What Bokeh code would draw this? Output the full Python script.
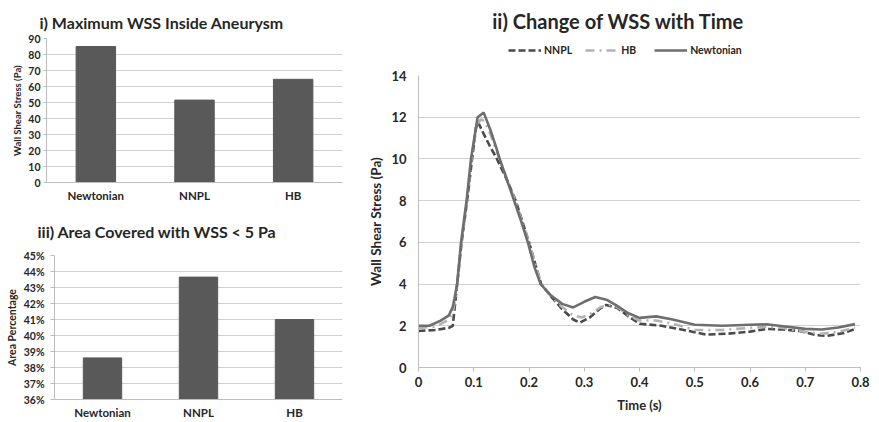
from bokeh.plotting import figure
from bokeh.layouts import row, column
from bokeh.models import Legend, LegendItem, PrintfTickFormatter, FixedTicker, Range1d, Label
from bokeh.embed import file_html
from bokeh.resources import INLINE

FONT = "Lato"

# ---------------- data ----------------
models = ["Newtonian", "NNPL", "HB"]
max_wss = [85, 51.5, 64.5]
area_pct = [38.6, 43.65, 41.0]

t_newt = [0, 0.02, 0.04, 0.055, 0.062, 0.065, 0.07, 0.077, 0.087, 0.095, 0.107, 0.118,
          0.13, 0.14, 0.147, 0.16, 0.173, 0.186, 0.198, 0.21, 0.221, 0.24, 0.26, 0.28,
          0.30, 0.32, 0.34, 0.36, 0.38, 0.40, 0.43, 0.46, 0.50, 0.55, 0.60, 0.63, 0.66,
          0.70, 0.73, 0.76, 0.79]
wss_newt = [2.0, 2.0, 2.25, 2.5, 2.9, 3.3, 4.0, 6.0, 8.0, 10.0, 12.0, 12.22,
            11.4, 10.6, 10.0, 9.0, 8.0, 7.0, 6.0, 4.8, 4.0, 3.45, 3.05, 2.88,
            3.15, 3.38, 3.25, 2.95, 2.6, 2.38, 2.45, 2.3, 2.05, 2.0, 2.05, 2.07, 1.98,
            1.85, 1.82, 1.92, 2.08]

t_nnpl = [0, 0.03, 0.055, 0.062, 0.066, 0.07, 0.078, 0.088, 0.097, 0.104, 0.108,
          0.118, 0.13, 0.142, 0.16, 0.176, 0.2, 0.222, 0.24, 0.26, 0.28, 0.292, 0.31,
          0.33, 0.34, 0.36, 0.38, 0.40, 0.44, 0.48, 0.52, 0.56, 0.60, 0.63, 0.66, 0.69,
          0.72, 0.74, 0.77, 0.79]
wss_nnpl = [1.75, 1.8, 1.9, 2.0, 3.0, 4.0, 6.0, 8.0, 10.0, 11.5, 11.75,
            11.2, 10.57, 10.0, 9.0, 8.0, 6.0, 4.0, 3.4, 2.8, 2.3, 2.15, 2.4,
            2.85, 3.0, 2.85, 2.45, 2.1, 2.0, 1.8, 1.58, 1.62, 1.72, 1.85, 1.82, 1.75,
            1.55, 1.52, 1.65, 1.85]

t_hb = [0, 0.03, 0.055, 0.062, 0.066, 0.07, 0.078, 0.088, 0.096, 0.105, 0.113, 0.12,
        0.13, 0.145, 0.175, 0.2, 0.222, 0.24, 0.26, 0.28, 0.295, 0.31, 0.33, 0.345,
        0.36, 0.38, 0.40, 0.43, 0.46, 0.50, 0.55, 0.60, 0.63, 0.66, 0.70, 0.73, 0.76, 0.79]
wss_hb = [1.9, 1.95, 2.3, 2.6, 3.2, 4.0, 6.0, 8.0, 10.0, 11.6, 11.9, 11.8,
          11.2, 10.1, 8.0, 6.0, 4.0, 3.4, 2.9, 2.5, 2.4, 2.55, 2.9, 3.0,
          2.9, 2.5, 2.25, 2.25, 2.1, 1.8, 1.8, 1.9, 1.95, 1.9, 1.7, 1.62, 1.72, 1.9]

wss_ticks = list(range(0, 91, 10))
pct_ticks = list(range(36, 46))
time_ticks = [0, 0.1, 0.2, 0.3, 0.4, 0.5, 0.6, 0.7, 0.8]
ts_ticks = list(range(0, 15, 2))

BAR = "#595959"
GRID = "#d0d0d0"
AXIS = "#bdbdbd"
TXT = "#262626"
C_NEWT = "#6e6e6e"
C_NNPL = "#4a4a4a"
C_HB = "#b2b2b2"


def style(p, tick_px, cat=False):
    for ax in (p.xaxis[0], p.yaxis[0]):
        ax.axis_line_color = AXIS
        ax.major_tick_line_color = AXIS
        ax.minor_tick_line_color = None
        ax.major_tick_in = 0
        ax.major_tick_out = 4
        ax.major_label_text_font = FONT
        ax.major_label_text_font_style = "bold"
        ax.major_label_text_color = TXT
        ax.axis_label_text_font = FONT
        ax.axis_label_text_font_style = "bold"
        ax.axis_label_text_color = TXT
    p.yaxis.major_label_text_font_size = tick_px
    p.xgrid.grid_line_color = None
    p.ygrid.grid_line_color = GRID
    p.outline_line_color = None
    if cat:
        p.xaxis.major_tick_line_color = None
        p.xaxis.major_tick_out = 0


def header(width, height):
    h = figure(width=width, height=height, x_range=Range1d(0, 1), y_range=Range1d(0, 1),
               x_axis_location=None, y_axis_location=None, output_backend="svg",
               toolbar_location=None, min_border=0)
    h.grid.visible = False
    h.outline_line_color = None
    return h


def title_label(h, text, x, y, size, align="left"):
    h.add_layout(Label(x=x, y=y, x_units="screen", y_units="screen", text=text,
                       text_font=FONT, text_font_style="bold", text_font_size=size,
                       text_color=TXT, text_align=align, text_baseline="middle"))


# ---------------- chart i ----------------
h1 = header(350, 32)
title_label(h1, "i) Maximum WSS Inside Aneurysm", 39, 10, "16px")

p1 = figure(x_range=models, y_range=Range1d(0, 90), width=350, height=173,
            output_backend="svg", toolbar_location=None,
            min_border_left=46, min_border_right=8, min_border_top=6, min_border_bottom=23)
p1.vbar(x=models, top=max_wss, width=0.4, color=BAR)
style(p1, "10.5px", cat=True)
p1.yaxis.ticker = FixedTicker(ticks=wss_ticks)
p1.yaxis.axis_label = "Wall Shear Stress (Pa)"
p1.yaxis.axis_label_text_font_size = "9.5px"
p1.yaxis.axis_label_standoff = 2
p1.yaxis.major_label_standoff = 3
p1.yaxis.major_tick_out = 3
p1.xaxis.major_label_text_font_size = "11.5px"
p1.xaxis.major_label_standoff = 6

# ---------------- chart iii ----------------
h3 = header(350, 44)
title_label(h3, "iii) Area Covered with WSS < 5 Pa", 37, 18, "16px")

p3 = figure(x_range=models, y_range=Range1d(36, 45), width=350, height=172,
            output_backend="svg", toolbar_location=None,
            min_border_left=54, min_border_right=8, min_border_top=6, min_border_bottom=20)
p3.vbar(x=models, bottom=36, top=area_pct, width=0.4, color=BAR)
style(p3, "10.5px", cat=True)
p3.yaxis.ticker = FixedTicker(ticks=pct_ticks)
p3.yaxis.formatter = PrintfTickFormatter(format="%d%%")
p3.yaxis.axis_label = "Area Percentage"
p3.yaxis.axis_label_text_font_size = "10.5px"
p3.yaxis.axis_label_standoff = 3
p3.yaxis.major_label_standoff = 6
p3.xaxis.major_label_text_font_size = "11.5px"
p3.xaxis.major_label_standoff = 6

# ---------------- chart ii ----------------
h2 = header(529, 67)
title_label(h2, "ii) Change of WSS with Time", 268, 47, "20px", align="center")
# legend samples: same series, drawn outside this header's visible range
d_nnpl = h2.line(t_nnpl, wss_nnpl, line_color=C_NNPL, line_width=2.6, line_dash="7 3")
d_hb = h2.line(t_hb, wss_hb, line_color=C_HB, line_width=2.6, line_dash="9 5 2 5")
d_newt = h2.line(t_newt, wss_newt, line_color=C_NEWT, line_width=2.6)
h2.y_range = Range1d(-2, -1)
legend = Legend(items=[LegendItem(label="NNPL", renderers=[d_nnpl]),
                       LegendItem(label="HB", renderers=[d_hb]),
                       LegendItem(label="Newtonian", renderers=[d_newt])],
                orientation="horizontal", location=(158, 11),
                label_text_font=FONT, label_text_font_style="bold",
                label_text_font_size="10.5px", label_text_color=TXT,
                glyph_width=33, glyph_height=12, label_height=12, label_standoff=3,
                spacing=13, padding=0, margin=0,
                border_line_color=None, background_fill_alpha=0)
h2.add_layout(legend)

p2 = figure(x_range=Range1d(0, 0.8), y_range=Range1d(0, 14), width=529, height=354,
            output_backend="svg", toolbar_location=None,
            min_border_left=68, min_border_right=19, min_border_top=8, min_border_bottom=54)
p2.line(t_nnpl, wss_nnpl, line_color=C_NNPL, line_width=2.6, line_dash="7 3")
p2.line(t_hb, wss_hb, line_color=C_HB, line_width=2.6, line_dash="9 5 2 5")
p2.line(t_newt, wss_newt, line_color=C_NEWT, line_width=2.6)
style(p2, "13px")
p2.yaxis.ticker = FixedTicker(ticks=ts_ticks)
p2.yaxis.major_tick_out = 0
p2.yaxis.major_label_standoff = 12
p2.xaxis.ticker = FixedTicker(ticks=time_ticks)
p2.xaxis.major_label_overrides = {0: "0"}
p2.xaxis.major_label_text_font_size = "13px"
p2.yaxis.axis_label = "Wall Shear Stress (Pa)"
p2.yaxis.axis_label_text_font_size = "13.5px"
p2.yaxis.axis_label_standoff = 4
p2.xaxis.axis_label = "Time (s)"
p2.xaxis.axis_label_text_font_size = "13px"
p2.xaxis.axis_label_standoff = 7

left = column(row(h1), row(p1), row(h3), row(p3))
right = column(row(h2), row(p2))
layout = row(left, right)
open("out.html", "w").write(file_html(layout, INLINE))
